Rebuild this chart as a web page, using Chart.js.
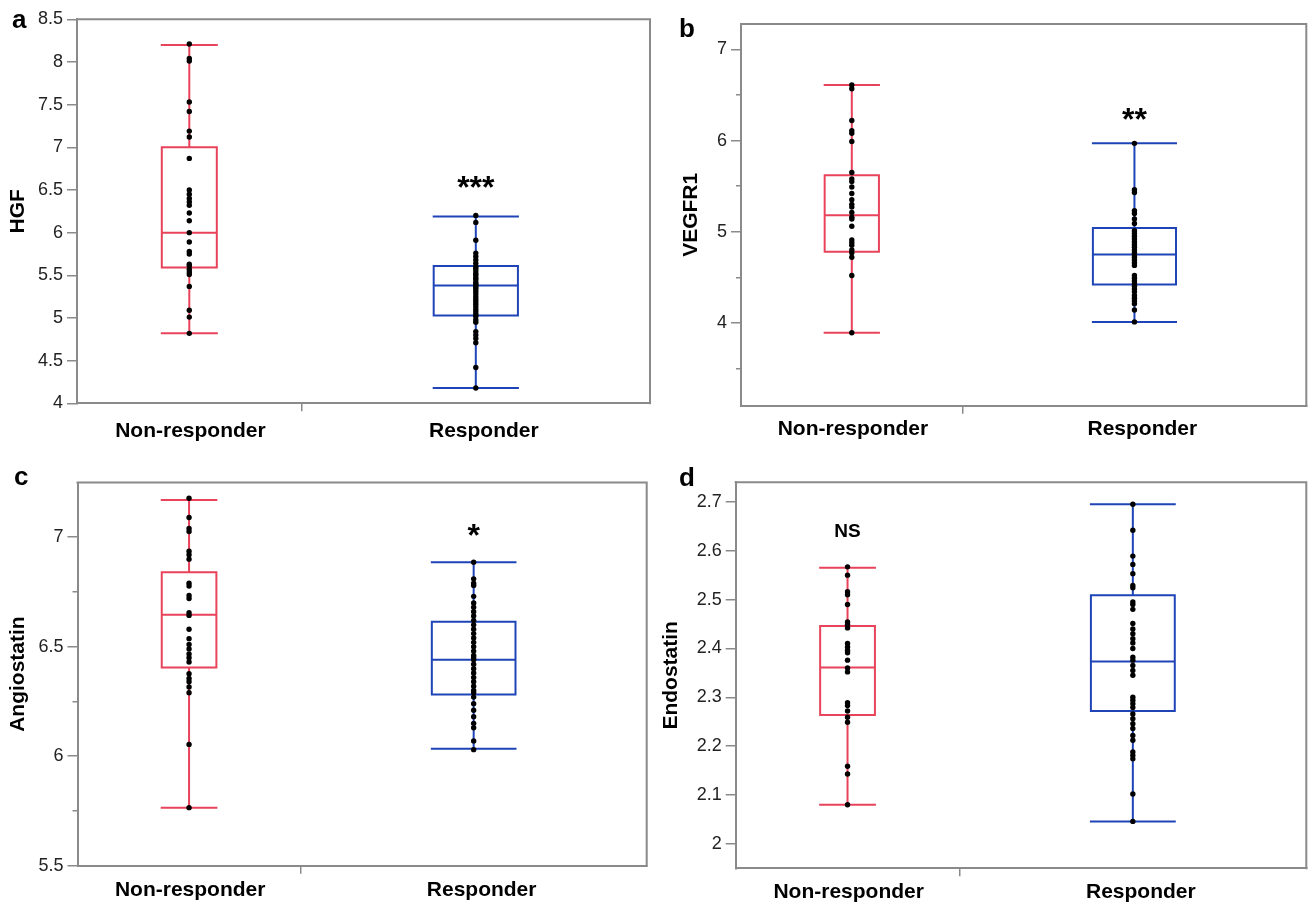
<!DOCTYPE html>
<html>
<head>
<meta charset="utf-8">
<script src="https://cdn.jsdelivr.net/npm/chart.js@4.4.1/dist/chart.umd.min.js"></script>
<style>
html, body { margin: 0; padding: 0; background: #fff; width: 1309px; height: 904px; overflow: hidden; }
canvas { position: absolute; }
.letter { position: absolute; font: bold 26px "Liberation Sans", Arial, Helvetica, sans-serif; line-height: 26px; color: #000; }
</style>
</head>
<body>
<canvas id="pa" width="654" height="452" style="left:0px;top:0px"></canvas>
<canvas id="pb" width="655" height="452" style="left:654px;top:0px"></canvas>
<canvas id="pc" width="654" height="452" style="left:0px;top:452px"></canvas>
<canvas id="pd" width="655" height="452" style="left:654px;top:452px"></canvas>
<div class="letter" style="left:12px;top:6px">a</div>
<div class="letter" style="left:679px;top:15px">b</div>
<div class="letter" style="left:14px;top:463px">c</div>
<div class="letter" style="left:679px;top:464px">d</div>
<script>
// ---------------- data ----------------
const categories = ['Non-responder', 'Responder'];

// box stats: [min whisker, q1, median, q3, max whisker]
const hgfNonResponder = [8.21, 8.04, 8.01, 7.53, 7.42, 7.19, 7.12, 6.87, 6.50, 6.45, 6.40, 6.36, 6.32, 6.23, 6.14, 6.00, 5.89, 5.78, 5.75, 5.63, 5.61, 5.57, 5.54, 5.51, 5.37, 5.09, 5.01, 4.82];
const hgfResponder = [6.20, 6.12, 5.91, 5.76, 5.72, 5.68, 5.64, 5.60, 5.58, 5.55, 5.52, 5.50, 5.47, 5.45, 5.42, 5.40, 5.38, 5.36, 5.34, 5.31, 5.28, 5.25, 5.22, 5.19, 5.16, 5.13, 5.10, 5.07, 5.04, 5.02, 4.98, 4.95, 4.84, 4.80, 4.76, 4.71, 4.42, 4.18];
const hgfBoxNonResponder = [4.82, 5.59, 6.00, 7.00, 8.20];
const hgfBoxResponder = [4.18, 5.03, 5.38, 5.61, 6.19];
const hgfTicks = [4, 4.5, 5, 5.5, 6, 6.5, 7, 7.5, 8, 8.5];
const hgfMinorTicks = [];

const vegfr1NonResponder = [6.61, 6.57, 6.22, 6.11, 6.08, 5.99, 5.65, 5.58, 5.55, 5.49, 5.42, 5.35, 5.30, 5.27, 5.21, 5.16, 5.14, 5.06, 4.91, 4.88, 4.85, 4.80, 4.77, 4.72, 4.52, 3.89];
const vegfr1Responder = [5.97, 5.46, 5.43, 5.23, 5.20, 5.14, 5.09, 5.01, 4.98, 4.95, 4.92, 4.89, 4.86, 4.83, 4.80, 4.77, 4.75, 4.72, 4.69, 4.66, 4.63, 4.52, 4.49, 4.46, 4.43, 4.40, 4.37, 4.34, 4.30, 4.27, 4.24, 4.21, 4.14, 4.01];
const vegfr1BoxNonResponder = [3.89, 4.78, 5.18, 5.62, 6.61];
const vegfr1BoxResponder = [4.01, 4.42, 4.75, 5.04, 5.97];
const vegfr1Ticks = [4, 5, 6, 7];
const vegfr1MinorTicks = [3.5, 4.5, 5.5, 6.5];

const angiostatinNonResponder = [7.178, 7.09, 7.04, 7.026, 6.936, 6.92, 6.90, 6.79, 6.777, 6.734, 6.72, 6.655, 6.643, 6.58, 6.537, 6.51, 6.49, 6.467, 6.45, 6.43, 6.377, 6.355, 6.34, 6.316, 6.29, 6.054, 5.765];
const angiostatinResponder = [6.886, 6.81, 6.79, 6.78, 6.73, 6.70, 6.68, 6.66, 6.64, 6.62, 6.60, 6.58, 6.56, 6.54, 6.52, 6.50, 6.48, 6.46, 6.45, 6.44, 6.42, 6.40, 6.38, 6.36, 6.34, 6.32, 6.30, 6.29, 6.27, 6.24, 6.21, 6.18, 6.15, 6.13, 6.07, 6.03];
const angiostatinBoxNonResponder = [5.765, 6.405, 6.646, 6.84, 7.17];
const angiostatinBoxResponder = [6.034, 6.282, 6.441, 6.614, 6.886];
const angiostatinTicks = [5.5, 6, 6.5, 7];
const angiostatinMinorTicks = [5.75, 6.25, 6.75];

const endostatinNonResponder = [2.567, 2.55, 2.516, 2.51, 2.49, 2.454, 2.449, 2.442, 2.41, 2.403, 2.396, 2.391, 2.376, 2.36, 2.352, 2.289, 2.283, 2.272, 2.259, 2.249, 2.159, 2.143, 2.08];
const endostatinResponder = [2.695, 2.642, 2.589, 2.572, 2.553, 2.529, 2.524, 2.495, 2.49, 2.48, 2.451, 2.44, 2.43, 2.42, 2.411, 2.40, 2.382, 2.376, 2.365, 2.355, 2.345, 2.30, 2.294, 2.287, 2.279, 2.266, 2.256, 2.246, 2.236, 2.222, 2.212, 2.188, 2.181, 2.174, 2.102, 2.046];
const endostatinBoxNonResponder = [2.08, 2.264, 2.361, 2.446, 2.565];
const endostatinBoxResponder = [2.046, 2.272, 2.373, 2.509, 2.695];
const endostatinTicks = [2, 2.1, 2.2, 2.3, 2.4, 2.5, 2.6, 2.7];
const endostatinMinorTicks = [];

const significanceLabels = ['***', '**', '*', 'NS'];
const significanceGroup = [1, 1, 1, 0];
const significanceY = [6.616, 6.312, 7.044, 2.642];

// ---------------- style / layout ----------------
const FONT = '"Liberation Sans", Arial, Helvetica, sans-serif';
const GRAY = '#8a8a8a';
const RED = '#e8435a';
const BLUE = '#1e44b8';
const GROUP_COLORS = [RED, BLUE];
const GROUP_X = [0.196, 0.696];
const GROUP_HALF_W = [0.048, 0.0735];
const LABEL_X = [0.198, 0.710];
const MID_TICK = 0.393;

const panels = [
  { id: 'pa', title: 'HGF', nr: hgfNonResponder, r: hgfResponder, boxNr: hgfBoxNonResponder, boxR: hgfBoxResponder,
    ticks: hgfTicks, minor: hgfMinorTicks, min: 4, max: 8.5, sig: 0,
    L: 77, T: 19.3, padR: 4, xH: 48.7, xPad: 9, titlePad: 8 },
  { id: 'pb', title: 'VEGFR1', nr: vegfr1NonResponder, r: vegfr1Responder, boxNr: vegfr1BoxNonResponder, boxR: vegfr1BoxResponder,
    ticks: vegfr1Ticks, minor: vegfr1MinorTicks, min: 3.09, max: 7.28, sig: 1,
    L: 87, T: 24, padR: 2.3, xH: 46.3, xPad: 5.5, titlePad: 27 },
  { id: 'pc', title: 'Angiostatin', nr: angiostatinNonResponder, r: angiostatinResponder, boxNr: angiostatinBoxNonResponder, boxR: angiostatinBoxResponder,
    ticks: angiostatinTicks, minor: angiostatinMinorTicks, min: 5.5, max: 7.25, sig: 2,
    L: 77.5, T: 30.5, padR: 7.3, xH: 38.3, xPad: 5.8, titlePad: 8 },
  { id: 'pd', title: 'Endostatin', nr: endostatinNonResponder, r: endostatinResponder, boxNr: endostatinBoxNonResponder, boxR: endostatinBoxResponder,
    ticks: endostatinTicks, minor: endostatinMinorTicks, min: 1.95, max: 2.74, sig: 3,
    L: 81.7, T: 30.3, padR: 1, xH: 35.7, xPad: 5.7, titlePad: 6.5 }
];

function boxLine(stats, cx, hw) {
  const [mn, q1, md, q3, mx] = stats;
  const gap = { x: cx, y: null };
  return [
    { x: cx - hw, y: q1 }, { x: cx + hw, y: q1 }, { x: cx + hw, y: q3 }, { x: cx - hw, y: q3 }, { x: cx - hw, y: q1 }, gap,
    { x: cx - hw, y: md }, { x: cx + hw, y: md }, gap,
    { x: cx, y: q3 }, { x: cx, y: mx }, gap,
    { x: cx - hw, y: mx }, { x: cx + hw, y: mx }, gap,
    { x: cx, y: q1 }, { x: cx, y: mn }, gap,
    { x: cx - hw, y: mn }, { x: cx + hw, y: mn }
  ];
}

const framePlugin = {
  id: 'frame',
  afterDraw(chart) {
    const { ctx, chartArea: { left, top, right, bottom } } = chart;
    ctx.save();
    ctx.strokeStyle = GRAY;
    ctx.lineWidth = 2;
    ctx.beginPath();
    ctx.moveTo(left - 1, top);
    ctx.lineTo(right, top);
    ctx.lineTo(right, bottom + 1);
    ctx.stroke();
    ctx.restore();
  }
};

const sigPlugin = {
  id: 'sigLabel',
  afterDatasetsDraw(chart, args, opts) {
    if (!opts || !opts.text) return;
    const { ctx } = chart;
    const px = chart.scales.x.getPixelForValue(opts.x);
    const py = chart.scales.y.getPixelForValue(opts.y);
    const isStar = opts.text.indexOf('*') >= 0;
    const size = isStar ? 32 : 19;
    const shift = isStar ? 0.56 : 0.358;
    ctx.save();
    ctx.fillStyle = '#000';
    ctx.font = 'bold ' + size + 'px ' + FONT;
    ctx.textAlign = 'center';
    ctx.textBaseline = 'alphabetic';
    ctx.fillText(opts.text, px, py + shift * size);
    ctx.restore();
  }
};

panels.forEach(p => {
  const allTicks = p.ticks.concat(p.minor).sort((a, b) => a - b);
  const isMinor = v => p.minor.indexOf(v) >= 0;
  const groups = [p.nr, p.r];
  const boxes = [p.boxNr, p.boxR];
  const datasets = [];
  groups.forEach((vals, g) => {
    datasets.push({
      type: 'scatter',
      data: vals.map(v => ({ x: GROUP_X[g], y: v })),
      backgroundColor: '#000',
      borderWidth: 0,
      pointRadius: 2.7,
      pointHoverRadius: 2.7,
      order: 0
    });
  });
  boxes.forEach((st, g) => {
    datasets.push({
      type: 'line',
      data: boxLine(st, GROUP_X[g], GROUP_HALF_W[g]),
      borderColor: GROUP_COLORS[g],
      borderWidth: 2,
      borderCapStyle: 'square',
      borderJoinStyle: 'miter',
      pointRadius: 0,
      fill: false,
      tension: 0,
      spanGaps: false,
      order: 1
    });
  });

  new Chart(document.getElementById(p.id), {
    type: 'scatter',
    data: { datasets },
    options: {
      responsive: false,
      animation: false,
      events: [],
      layout: { padding: { left: 0, top: p.T, right: p.padR, bottom: 0 } },
      plugins: {
        legend: { display: false },
        tooltip: { enabled: false },
        sigLabel: {
          text: significanceLabels[p.sig],
          x: GROUP_X[significanceGroup[p.sig]],
          y: significanceY[p.sig]
        }
      },
      scales: {
        x: {
          type: 'linear', min: 0, max: 1, position: 'bottom',
          afterBuildTicks: s => { s.ticks = [{ value: LABEL_X[0] }, { value: MID_TICK }, { value: LABEL_X[1] }]; },
          afterFit: s => { s.height = p.xH; },
          ticks: {
            autoSkip: false, maxRotation: 0, minRotation: 0, padding: p.xPad, color: '#000',
            font: { family: FONT, size: 21, weight: 'bold', lineHeight: 1 },
            callback: v => v === LABEL_X[0] ? categories[0] : (v === LABEL_X[1] ? categories[1] : '')
          },
          grid: {
            drawOnChartArea: false, tickLength: 8, lineWidth: 1.5,
            color: c => (c.tick && c.tick.value === MID_TICK) ? GRAY : 'rgba(0,0,0,0)'
          },
          border: { color: GRAY, width: 2 }
        },
        y: {
          type: 'linear', min: p.min, max: p.max, position: 'left',
          afterBuildTicks: s => { s.ticks = allTicks.map(v => ({ value: v })); },
          afterFit: s => { s.width = p.L; },
          ticks: {
            padding: 4, color: '#222',
            font: { family: FONT, size: 18 },
            callback: v => isMinor(v) ? '' : String(v)
          },
          grid: {
            drawOnChartArea: false, tickLength: 10, lineWidth: 1.5, color: GRAY,
            tickBorderDash: c => (c.tick && isMinor(c.tick.value)) ? [5, 5] : [],
            tickBorderDashOffset: c => (c.tick && isMinor(c.tick.value)) ? 5 : 0
          },
          border: { color: GRAY, width: 2 },
          title: {
            display: true, text: p.title, color: '#000',
            font: { family: FONT, size: 21, weight: 'bold', lineHeight: 1 },
            padding: { top: p.titlePad, bottom: 0 }
          }
        }
      }
    },
    plugins: [framePlugin, sigPlugin]
  });
});
</script>
</body>
</html>
